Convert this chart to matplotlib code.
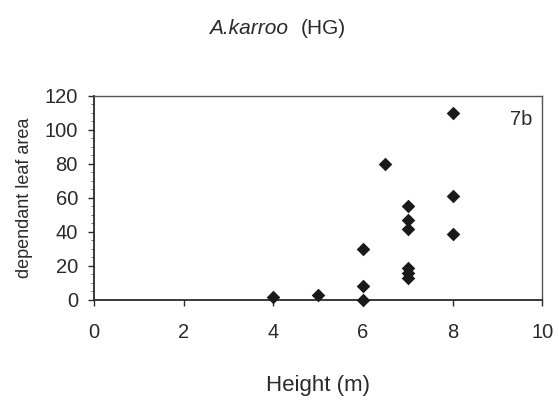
import matplotlib
matplotlib.use("Agg")
import matplotlib.pyplot as plt
from matplotlib.ticker import MultipleLocator

height = [4, 5, 6, 6, 6, 6.5, 7, 7, 7, 7, 7, 7, 8, 8, 8]
leaf_area = [2, 3, 0, 8, 30, 80, 55, 47, 42, 19, 16, 13, 110, 61, 39]
xticks = [0, 2, 4, 6, 8, 10]
yticks = [0, 20, 40, 60, 80, 100, 120]

plt.rcParams['font.family'] = ['Liberation Sans', 'DejaVu Sans']
fig = plt.figure(figsize=(5.59, 4.03), dpi=100)
ax = fig.add_axes([0.168, 0.2556, 0.802, 0.5062])

ink = '#2a2a2a'
ax.scatter(height, leaf_area, marker='D', s=48, color='#1a1a1a', zorder=3, clip_on=False,
           linewidths=0)
ax.set_xlim(0, 10)
ax.set_ylim(0, 120)
ax.set_xticks(xticks)
ax.set_yticks(yticks)
ax.yaxis.set_minor_locator(MultipleLocator(5))
ax.tick_params(axis='both', direction='out', length=4.5, width=1, colors=ink,
               labelsize=14.5, labelcolor=ink)
ax.tick_params(axis='y', which='minor', length=2, width=0.6, colors='#555555')
ax.tick_params(axis='x', pad=12)
ax.tick_params(axis='y', pad=7)

for s in ['left', 'bottom']:
    ax.spines[s].set_color(ink)
    ax.spines[s].set_linewidth(1.3)
for s in ['top', 'right']:
    ax.spines[s].set_color('#555555')
    ax.spines[s].set_linewidth(1.0)
    ax.spines[s].set_linestyle((0, (1, 1)))

ax.text(0.977, 0.883, '7b', transform=ax.transAxes, ha='right', va='center',
        fontsize=14.5, color=ink)

ax.set_xlabel('Height (m)', fontsize=16, color=ink, labelpad=24)
ax.set_ylabel('dependant leaf area', fontsize=13, color=ink, labelpad=8)

fig.text(0.515, 0.93, 'A.karroo', fontsize=15, color=ink, ha='right', va='center',
         style='italic')
fig.text(0.538, 0.93, '(HG)', fontsize=15, color=ink, ha='left', va='center')

fig.savefig('out.png', dpi=100, facecolor='white')
